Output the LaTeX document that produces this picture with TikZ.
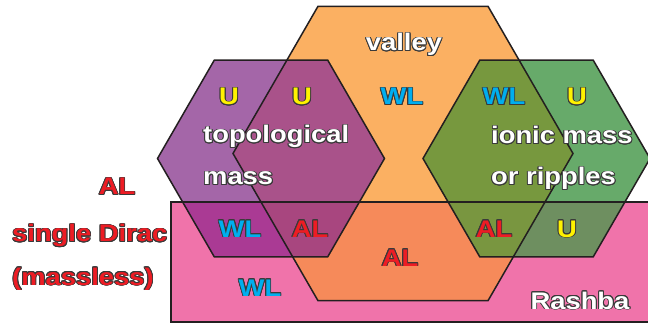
\documentclass[tikz,border=0pt]{standalone}
\usepackage{fontspec}
\setmainfont{Liberation Sans}
\newfontfamily\lblfont{Liberation Sans}[FakeStretch=1.14]
\usepackage[copies]{contour}
\contourlength{0.9pt}
\contournumber{16}

\definecolor{valleyC}{HTML}{FBB062}
\definecolor{topoC}{HTML}{A466A8}
\definecolor{ionicC}{HTML}{67AA6A}
\definecolor{rashbaC}{HTML}{F073AA}
\definecolor{topoValleyC}{HTML}{A9528A}
\definecolor{valleyRashbaC}{HTML}{F68A5A}
\definecolor{topoRashbaC}{HTML}{AA3A94}
\definecolor{topoValleyRashbaC}{HTML}{A8467F}
\definecolor{ionicValleyC}{HTML}{77983E}
\definecolor{ionicRashbaC}{HTML}{6E8F60}
\definecolor{ionicValleyRashbaC}{HTML}{799640}
\definecolor{edgeC}{HTML}{231F20}
\definecolor{rimC}{HTML}{3A3A3A}
\definecolor{uC}{HTML}{FFF200}
\definecolor{wlC}{HTML}{00AEEF}
\definecolor{alC}{HTML}{ED1C24}

% flat-topped hexagon: centre x, centre y, radius
\newcommand\hexpath[3]{(#1+#3,#2) -- (#1+#3/2,#2-0.866*#3) -- (#1-#3/2,#2-0.866*#3) -- (#1-#3,#2) -- (#1-#3/2,#2+0.866*#3) -- (#1+#3/2,#2+0.866*#3) -- cycle}
\newcommand\valleyhex{\hexpath{403}{153.5}{170}}
\newcommand\topohex{\hexpath{271}{158.5}{113.5}}
\newcommand\ionichex{\hexpath{536.5}{158.5}{113.5}}
\newcommand\rashbarect{(171,202) rectangle (660,322)}
\newcommand\rim[1]{\contour{rimC}{#1}}

\tikzset{
  lbl/.style={font=\lblfont\bfseries\fontsize{24}{24}\selectfont,inner sep=0pt,anchor=base},
  namelbl/.style={lbl,text=white},
  ulbl/.style={lbl,text=uC},
  wllbl/.style={lbl,text=wlC},
  allbl/.style={lbl,text=alC},
  outline/.style={draw=edgeC,line width=1.5pt,line join=miter}
}

\begin{document}
\begin{tikzpicture}[x=1pt,y=-1pt]
\clip (0,0) rectangle (648,323);

% Sets
\fill[rashbaC] \rashbarect;
\fill[valleyC] \valleyhex;
\fill[topoC] \topohex;
\fill[ionicC] \ionichex;

% Overlaps, topological side
\begin{scope}
  \clip \topohex;
  \fill[topoValleyC] \valleyhex;
  \fill[topoRashbaC] \rashbarect;
\end{scope}
\begin{scope}
  \clip \valleyhex;
  \fill[valleyRashbaC] \rashbarect;
\end{scope}
\begin{scope}
  \clip \topohex;
  \clip \valleyhex;
  \fill[topoValleyRashbaC] \rashbarect;
\end{scope}

% Overlaps, ionic side
\begin{scope}
  \clip \ionichex;
  \fill[ionicValleyC] \valleyhex;
  \fill[ionicRashbaC] \rashbarect;
\end{scope}
\begin{scope}
  \clip \ionichex;
  \clip \valleyhex;
  \fill[ionicValleyRashbaC] \rashbarect;
\end{scope}

% Borders
\draw[outline] \rashbarect;
\draw[outline] \valleyhex;
\draw[outline] \topohex;
\draw[outline] \ionichex;

% Set names
\node[namelbl] (valley) at (404,51) {\rim{valley}};
\node[namelbl,anchor=base west] (topo1) at (203,143) {\rim{topological}};
\node[namelbl,anchor=base west] (topo2) at (203,185) {\rim{mass}};
\node[namelbl,anchor=base west] (ionic1) at (491,144) {\rim{ionic mass}};
\node[namelbl,anchor=base west] (ionic2) at (491,185) {\rim{or ripples}};
\node[namelbl] (rashba) at (580,309) {\rim{Rashba}};

% Outside
\node[allbl] (alOut) at (117,195) {\rim{AL}};
\node[allbl,anchor=base west] (dirac1) at (12,242) {\rim{single Dirac}};
\node[allbl,anchor=base west] (dirac2) at (12,285) {\rim{(massless)}};

% Upper row
\node[ulbl] (uTopo) at (229,105) {\rim{U}};
\node[ulbl] (uTopoValley) at (302,105) {\rim{U}};
\node[wllbl] (wlValley) at (402,105) {\rim{WL}};
\node[wllbl] (wlIonicValley) at (504,105) {\rim{WL}};
\node[ulbl] (uIonic) at (577,105) {\rim{U}};

% Lower rows
\node[wllbl] (wlTopoRashba) at (240,237) {\rim{WL}};
\node[allbl] (alTopoValleyRashba) at (310,237) {\rim{AL}};
\node[allbl] (alValleyRashba) at (400,266) {\rim{AL}};
\node[allbl] (alIonicValleyRashba) at (494,237) {\rim{AL}};
\node[ulbl] (uIonicRashba) at (567,237) {\rim{U}};
\node[wllbl] (wlRashba) at (260,296) {\rim{WL}};
\end{tikzpicture}
\end{document}
